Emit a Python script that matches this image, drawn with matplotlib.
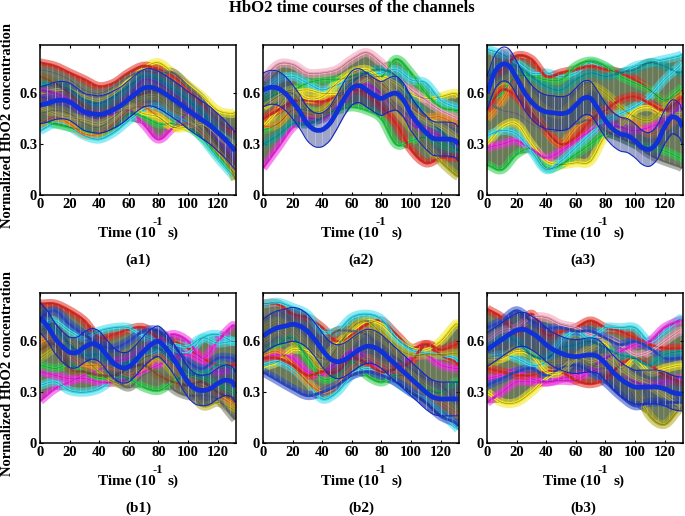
import numpy as np
import matplotlib
matplotlib.use("Agg")
import matplotlib.pyplot as plt
from matplotlib.path import Path
from matplotlib.patches import PathPatch

# tiempos de lectura de los canales y de la media
t_canal = [0, 10, 20, 30, 40, 50, 60, 70, 80, 90, 100, 110, 120, 130, 132]
t_media = [0, 5, 10, 15, 20, 25, 30, 35, 40, 45, 50, 55, 60, 65, 70, 75, 80, 85, 90,
           95, 100, 105, 110, 115, 120, 125, 130, 132]

ROJO, AMAR, GRIS, MAG, CIAN, VERDE = '#e02a20', '#f4e61e', '#6f7468', '#f028e0', '#38dcec', '#28cc48'
NARA, OLIVA, MORA, TEAL, MARRON, AZUL = '#f08a1c', '#b0aa20', '#8040c0', '#109a98', '#8a5a2a', '#2848c8'
ROSA = '#f2a0b8'

a1_media = [.53, .54, .555, .56, .55, .52, .49, .48, .475, .485, .505, .53, .565, .60, .63, .635,
            .62, .595, .565, .535, .50, .47, .44, .41, .37, .33, .28, .26]
a2_media = [.62, .635, .63, .60, .55, .49, .42, .385, .385, .42, .49, .57, .63, .645, .62, .59,
            .57, .59, .60, .56, .48, .42, .37, .335, .33, .33, .32, .30]
a3_media = [.60, .72, .77, .76, .69, .61, .55, .51, .49, .485, .48, .49, .53, .57, .57, .51,
            .44, .39, .36, .35, .32, .28, .27, .31, .40, .46, .44, .40]
b1_media = [.74, .69, .62, .57, .535, .535, .565, .585, .57, .52, .47, .445, .45, .49, .54, .58,
            .60, .56, .50, .43, .36, .32, .31, .32, .35, .37, .36, .33]
b2_media = [.63, .66, .68, .69, .70, .69, .66, .61, .55, .50, .48, .49, .52, .55, .57, .565,
            .54, .50, .46, .42, .38, .34, .30, .27, .26, .26, .26, .26]
b3_media = [.55, .58, .61, .64, .665, .67, .65, .62, .58, .55, .53, .515, .51, .515, .52, .51,
            .47, .42, .38, .35, .33, .33, .33, .33, .32, .30, .29, .29]

a1_canales = [
    [.60, .62, .62, .58, .56, .60, .68, .75, .78, .72, .65, .58, .50, .48, .49],
    [.62, .60, .56, .50, .47, .48, .50, .42, .33, .40, .48, .44, .36, .28, .26],
    [.38, .42, .40, .35, .33, .37, .44, .50, .52, .47, .42, .33, .22, .12, .10],
    [.78, .76, .72, .68, .64, .66, .72, .76, .74, .70, .63, .54, .44, .38, .37],
    [.74, .72, .68, .62, .60, .64, .70, .73, .72, .72, .64, .56, .44, .40, .39],
    [.44, .42, .40, .38, .36, .40, .48, .46, .42, .42, .40, .34, .24, .14, .12],
    [.42, .46, .42, .36, .36, .42, .50, .52, .46, .40, .42, .36, .26, .16, .14],
    [.48, .50, .48, .42, .40, .46, .54, .58, .58, .50, .46, .38, .28, .14, .09],
    [.58, .56, .54, .48, .46, .50, .58, .68, .66, .60, .52, .44, .32, .22, .20],
    [.66, .66, .62, .56, .54, .58, .64, .70, .68, .62, .56, .48, .38, .30, .28],
    [.70, .66, .60, .52, .46, .50, .56, .60, .62, .58, .50, .42, .30, .20, .18],
    [.52, .48, .46, .44, .42, .46, .52, .48, .46, .40, .40, .42, .36, .30, .29],
]
a1_colores = [AMAR, MAG, CIAN, ROJO, GRIS, VERDE, NARA, OLIVA, MORA, TEAL, MARRON, AMAR]

a2_canales = [
    [.40, .50, .60, .62, .60, .60, .62, .68, .70, .66, .60, .57, .58, .60, .58],
    [.16, .28, .40, .45, .45, .52, .62, .65, .60, .50, .42, .38, .35, .30, .29],
    [.38, .42, .50, .50, .48, .50, .52, .50, .45, .30, .32, .34, .30, .27, .26],
    [.45, .50, .55, .56, .55, .58, .62, .60, .52, .42, .27, .19, .22, .22, .22],
    [.55, .60, .62, .66, .68, .68, .70, .72, .70, .80, .72, .60, .52, .50, .50],
    [.68, .77, .77, .72, .72, .74, .80, .84, .78, .70, .62, .56, .50, .46, .45],
    [.60, .68, .70, .66, .62, .65, .68, .70, .72, .74, .68, .66, .56, .52, .52],
    [.52, .58, .60, .50, .50, .58, .68, .70, .62, .50, .40, .30, .20, .12, .11],
    [.30, .35, .42, .42, .46, .56, .66, .72, .74, .70, .58, .46, .38, .28, .26],
    [.40, .42, .50, .48, .47, .56, .64, .70, .66, .58, .52, .46, .46, .42, .42],
    [.52, .58, .62, .57, .58, .66, .72, .74, .68, .58, .50, .44, .40, .34, .32],
]
a2_colores = [AMAR, MAG, VERDE, ROJO, VERDE, ROSA, CIAN, OLIVA, TEAL, NARA, AMAR]

a3_canales = [
    [.86, .83, .78, .72, .72, .70, .72, .78, .75, .72, .76, .78, .80, .82, .83],
    [.70, .74, .82, .80, .70, .72, .74, .76, .74, .72, .68, .62, .56, .60, .62],
    [.55, .60, .70, .70, .68, .68, .76, .79, .76, .70, .66, .62, .56, .62, .64],
    [.70, .76, .76, .70, .64, .62, .68, .72, .70, .72, .74, .78, .76, .72, .73],
    [.60, .66, .70, .58, .50, .48, .56, .64, .60, .52, .46, .44, .52, .60, .60],
    [.45, .55, .68, .52, .38, .30, .40, .46, .50, .46, .42, .36, .40, .46, .48],
    [.30, .40, .42, .30, .20, .18, .19, .20, .35, .40, .50, .52, .48, .48, .48],
    [.18, .15, .24, .27, .16, .18, .24, .30, .36, .34, .30, .28, .26, .22, .20],
    [.28, .30, .32, .27, .22, .26, .32, .38, .42, .40, .38, .40, .44, .52, .54],
    [.35, .38, .36, .26, .15, .20, .28, .36, .44, .48, .52, .58, .68, .76, .78],
    [.55, .50, .48, .42, .38, .38, .42, .44, .38, .34, .30, .24, .20, .17, .16],
    [.50, .62, .58, .48, .38, .30, .34, .44, .50, .56, .58, .54, .50, .56, .58],
]
a3_colores = [CIAN, ROJO, VERDE, TEAL, OLIVA, NARA, AMAR, VERDE, MAG, CIAN, GRIS, ROJO]

b1_canales = [
    [.82, .82, .78, .72, .62, .64, .67, .68, .62, .60, .56, .50, .46, .46, .46],
    [.70, .72, .66, .62, .66, .68, .68, .63, .60, .55, .53, .62, .64, .60, .60],
    [.25, .32, .36, .40, .43, .48, .50, .55, .60, .64, .60, .50, .60, .69, .69],
    [.34, .36, .31, .30, .32, .38, .44, .50, .54, .58, .57, .62, .59, .60, .60],
    [.42, .40, .38, .38, .36, .36, .38, .42, .46, .50, .52, .48, .42, .44, .44],
    [.50, .56, .60, .50, .42, .36, .36, .50, .50, .42, .32, .22, .24, .20, .19],
    [.66, .70, .58, .50, .46, .38, .33, .40, .42, .32, .28, .28, .26, .16, .14],
    [.46, .44, .46, .42, .38, .40, .38, .33, .31, .36, .40, .38, .34, .30, .28],
    [.74, .78, .70, .64, .58, .56, .60, .66, .66, .58, .48, .44, .50, .50, .48],
    [.60, .62, .52, .46, .46, .44, .40, .44, .52, .46, .38, .35, .30, .24, .22],
    [.72, .68, .58, .52, .52, .46, .48, .54, .56, .48, .42, .40, .46, .44, .42],
    [.55, .58, .44, .42, .40, .40, .44, .46, .40, .36, .34, .36, .30, .26, .24],
]
b1_colores = [ROJO, CIAN, MAG, CIAN, MAG, OLIVA, GRIS, VERDE, AZUL, NARA, TEAL, MARRON]

b2_canales = [
    [.82, .82, .76, .74, .68, .60, .64, .70, .72, .64, .56, .58, .52, .48, .46],
    [.45, .48, .55, .54, .50, .58, .66, .72, .70, .62, .56, .55, .60, .70, .70],
    [.60, .66, .60, .52, .44, .56, .68, .72, .64, .52, .42, .34, .28, .20, .18],
    [.50, .52, .50, .42, .40, .48, .54, .50, .42, .44, .50, .52, .46, .44, .44],
    [.82, .83, .80, .76, .66, .66, .74, .76, .73, .62, .55, .53, .52, .50, .48],
    [.52, .58, .62, .50, .38, .40, .48, .40, .36, .40, .38, .32, .30, .36, .36],
    [.46, .48, .44, .36, .26, .30, .40, .44, .42, .36, .30, .26, .18, .10, .08],
    [.74, .78, .72, .66, .60, .66, .66, .64, .56, .50, .44, .38, .34, .26, .24],
    [.52, .54, .46, .36, .30, .34, .44, .50, .46, .42, .36, .30, .24, .18, .16],
    [.42, .37, .32, .28, .30, .34, .40, .42, .40, .36, .30, .24, .16, .12, .10],
    [.50, .50, .46, .40, .42, .42, .50, .47, .42, .44, .48, .58, .55, .58, .59],
    [.68, .72, .66, .58, .50, .50, .60, .66, .62, .56, .52, .52, .52, .53, .53],
]
b2_colores = [ROJO, AMAR, OLIVA, MAG, CIAN, VERDE, CIAN, GRIS, NARA, AZUL, ROJO, OLIVA]

b3_canales = [
    [.79, .74, .66, .76, .64, .66, .68, .72, .68, .66, .62, .58, .56, .56, .56],
    [.30, .24, .24, .30, .38, .44, .50, .48, .50, .44, .38, .34, .28, .22, .22],
    [.60, .66, .68, .74, .74, .70, .68, .64, .62, .58, .52, .54, .60, .66, .66],
    [.50, .52, .50, .46, .48, .60, .66, .62, .68, .68, .68, .60, .66, .73, .73],
    [.38, .40, .42, .38, .36, .38, .40, .44, .50, .54, .58, .60, .68, .72, .72],
    [.24, .30, .36, .36, .36, .37, .37, .42, .44, .40, .36, .34, .36, .38, .38],
    [.45, .50, .55, .52, .48, .48, .50, .46, .44, .40, .32, .16, .11, .20, .21],
    [.44, .42, .40, .40, .42, .42, .37, .35, .38, .46, .50, .46, .40, .36, .36],
    [.68, .72, .78, .72, .68, .68, .66, .66, .62, .58, .60, .56, .50, .50, .50],
    [.34, .38, .42, .44, .40, .44, .46, .42, .36, .28, .22, .24, .24, .24, .24],
    [.50, .50, .54, .52, .42, .42, .50, .56, .58, .44, .50, .42, .44, .46, .46],
    [.56, .62, .60, .52, .50, .56, .58, .60, .56, .52, .50, .46, .52, .54, .54],
]
b3_colores = [ROJO, AMAR, ROSA, CIAN, MAG, MAG, OLIVA, ROJO, AZUL, AZUL, AMAR, TEAL]

# desviacion de la media, casi constante en cada panel
a1_std = .11
a2_std = .10
a3_std = .10
b1_std = .09
b2_std = .10
b3_std = .10

paneles = [
    ('(a1)', 40, 45, a1_media, a1_canales, a1_colores, a1_std),
    ('(a2)', 263, 45, a2_media, a2_canales, a2_colores, a2_std),
    ('(a3)', 487, 45, a3_media, a3_canales, a3_colores, a3_std),
    ('(b1)', 40, 293, b1_media, b1_canales, b1_colores, b1_std),
    ('(b2)', 263, 293, b2_media, b2_canales, b2_colores, b2_std),
    ('(b3)', 487, 293, b3_media, b3_canales, b3_colores, b3_std),
]

W, H = 685, 516
ANCHO, ALTO = 196, 150
plt.rcParams['font.family'] = ['Liberation Serif']
plt.rcParams['font.weight'] = 'bold'
plt.rcParams['hatch.linewidth'] = 0.5


def curva(ax, x, y, **kw):
    # curva suave (Bezier) que pasa por los puntos leidos
    x = np.asarray(x, float)
    y = np.asarray(y, float)
    verts = [(x[0], y[0])]
    codes = [Path.MOVETO]
    for i in range(len(x) - 1):
        j0, j1 = max(i - 1, 0), min(i + 2, len(x) - 1)
        h = x[i + 1] - x[i]
        m0 = (y[i + 1] - y[j0]) / (x[i + 1] - x[j0])
        m1 = (y[j1] - y[i]) / (x[j1] - x[i])
        verts += [(x[i] + h / 3, y[i] + m0 * h / 3),
                  (x[i + 1] - h / 3, y[i + 1] - m1 * h / 3),
                  (x[i + 1], y[i + 1])]
        codes += [Path.CURVE4] * 3
    ax.add_patch(PathPatch(Path(verts, codes), fill=False, capstyle='butt', **kw))


fig = plt.figure(figsize=(W / 100, H / 100), dpi=100)

for nombre, izq, arriba, media, canales, tonos, std in paneles:
    ax = fig.add_axes([izq / W, 1 - (arriba + ALTO) / H, ANCHO / W, ALTO / H])
    matriz = np.array(canales)
    ax.fill_between(t_canal, matriz.min(axis=0), matriz.max(axis=0), color='#6a7a58', lw=0, zorder=1)

    # banda ancha del canal y despues su linea
    for canal, tono in zip(canales, tonos):
        curva(ax, t_canal, canal, edgecolor=tono, lw=6.5, alpha=0.55, zorder=2)
    for canal, tono in zip(canales, tonos):
        curva(ax, t_canal, canal, edgecolor=tono, lw=2.2, zorder=3)
    for canal in canales:
        curva(ax, t_canal, canal, edgecolor='#3a3a44', lw=0.4, alpha=0.6, zorder=3)

    # rayado vertical de las barras de error
    ax.fill_between(t_canal, matriz.min(axis=0), matriz.max(axis=0), facecolor='none',
                    edgecolor=(1, 1, 1, 0.3), hatch='|||', lw=0, zorder=4)

    media = np.array(media)
    ax.fill_between(t_media, media - std, media + std, color='#1a2a80', alpha=0.42, lw=0, zorder=5)
    ax.errorbar(t_media, media, yerr=std, fmt='none', ecolor='#c8d0f0', elinewidth=0.4, zorder=6)
    curva(ax, t_media, media + std, edgecolor='#1428c0', lw=0.8, zorder=6)
    curva(ax, t_media, media - std, edgecolor='#1428c0', lw=0.8, zorder=6)
    curva(ax, t_media, media, edgecolor='#1030d8', lw=3.4, zorder=7)

    ax.set_xlim(0, 132.5)
    ax.set_ylim(0, 0.885)
    ax.set_xticks(range(0, 140, 20))
    ax.set_yticks([0, 0.3, 0.6])
    ax.set_yticklabels(['0', '0.3', '0.6'])
    ax.tick_params(direction='in', length=2, width=0.8, top=True, right=True, labelsize=10.5, pad=2)
    for s in ax.spines.values():
        s.set_linewidth(1.1)
        s.set_zorder(10)

    # textos bajo cada panel
    centro = izq + ANCHO / 2 - (2 if izq == 487 else 0)
    y_base = arriba + ALTO
    fig.text((centro - 40) / W, 1 - (y_base + 38) / H, 'Time (10', fontsize=11, ha='left', va='center')
    fig.text((centro + 20) / W, 1 - (y_base + 27) / H, '-1', fontsize=9, ha='center', va='center')
    fig.text((centro + 30) / W, 1 - (y_base + 38) / H, 's)', fontsize=11, ha='left', va='center')
    fig.text(centro / W, 1 - (y_base + 65) / H, nombre, fontsize=11, ha='center', va='center')

    if izq == 40:
        fig.text(8 / W, 1 - (arriba + 80) / H, 'Normalized HbO2 concentration', fontsize=10.5,
                 rotation=90, ha='center', va='center')

fig.text(352 / W, 1 - 8 / H, 'HbO2 time courses of the channels', fontsize=12, ha='center', va='center')

plt.savefig('out.png', dpi=100)
